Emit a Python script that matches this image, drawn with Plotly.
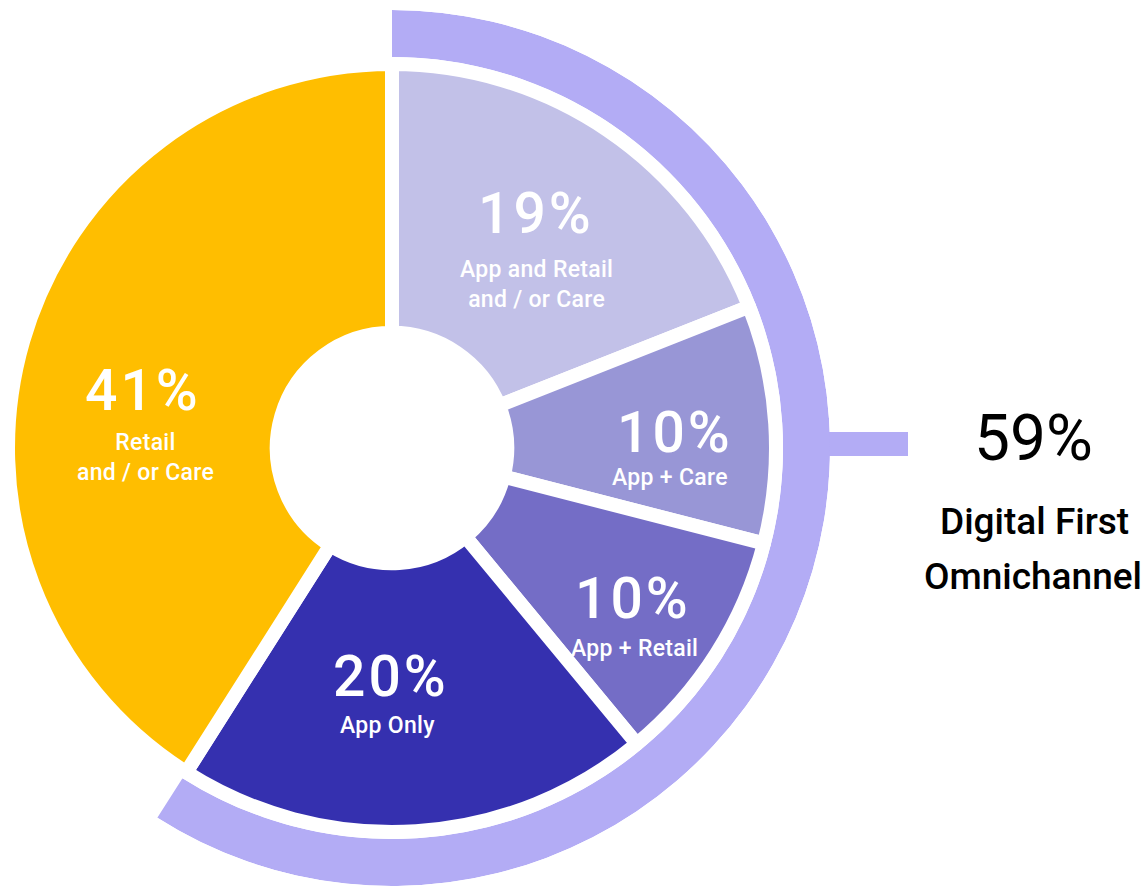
import math
import plotly.graph_objects as go

# ---- data -------------------------------------------------------------
segments = ["App and Retail<br>and / or Care", "App + Care", "App + Retail",
            "App Only", "Retail<br>and / or Care"]
shares = [19, 10, 10, 20, 41]
colors = ["#C2C1E8", "#9896D6", "#746DC6", "#3530AF", "#FFBE00"]
digital_first = ["App and Retail<br>and / or Care", "App + Care", "App + Retail", "App Only"]
group_lines = ["Digital First", "Omnichannel"]

# ---- geometry (pixels) -----------------------------------------------
W, H = 1146, 886
CX, CY = 392, 448            # centre of the donut, from top-left
R_PIE = 384                  # pie radius incl. white outline
HOLE = 0.30
GAP = 14                     # white separators
R_OUT, R_IN = 438, 391       # outer "digital first" band
ARC_COLOR = "#B3ACF5"

digital_total = sum(s for n, s in zip(segments, shares) if n in digital_first)

fig = go.Figure()

fig.add_trace(go.Pie(
    labels=segments, values=shares, sort=False, direction="clockwise",
    rotation=0, hole=HOLE,
    marker=dict(colors=colors, line=dict(color="white", width=GAP)),
    textinfo="none", hoverinfo="skip",
    domain=dict(x=[(CX - R_PIE) / W, (CX + R_PIE) / W],
                y=[(H - CY - R_PIE) / H, (H - CY + R_PIE) / H]),
    showlegend=False,
))

# outer band covering the digital-first share, as a polar bar
span = digital_total / 100 * 360
sector = [90 - span - 0.3, 90.3]
x0f = min(0.0, math.cos(math.radians(sector[0])))
fig.add_trace(go.Barpolar(
    r=[R_OUT - R_IN], base=[R_IN], theta=[span / 2], width=[span],
    marker=dict(color=ARC_COLOR, line=dict(width=0)),
    hoverinfo="skip", showlegend=False,
))
fig.update_layout(polar=dict(
    domain=dict(x=[(CX + x0f * R_OUT) / W, (CX + R_OUT) / W],
                y=[(H - CY - R_OUT) / H, (H - CY + R_OUT) / H]),
    sector=sector, hole=0, bgcolor="rgba(0,0,0,0)",
    radialaxis=dict(visible=False, range=[0, R_OUT]),
    angularaxis=dict(visible=False, direction="clockwise", rotation=90),
))

# connector tick from the band to the group label
fig.add_shape(type="rect", xref="paper", yref="paper",
              x0=(CX + R_OUT - 3) / W, x1=908 / W,
              y0=1 - 456 / H, y1=1 - 432 / H,
              fillcolor=ARC_COLOR, line=dict(width=0), layer="below")

# ---- labels ------------------------------------------------------------
FONT = "Roboto"
pct_pos = [(536, 214), (675, 432), (633, 598), (391, 676), (143, 390)]
sub_pos = [(536, 284), (670, 478), (634, 648), (387, 725), (145, 457)]


def add_text(x, y, text, size, color, weight=400, spacing=None):
    if spacing is not None:
        text = f'<span style="letter-spacing:{spacing}px">{text}</span>'
    fig.add_annotation(x=x / W, y=1 - y / H, xref="paper", yref="paper",
                       text=text, showarrow=False, xanchor="center",
                       yanchor="middle",
                       font=dict(family=FONT, size=size, color=color,
                                 weight=weight))


for seg, share, (px, py), (sx, sy) in zip(segments, shares, pct_pos, sub_pos):
    add_text(px, py, f"{share}%", 57, "white", 500, spacing=3)
    add_text(sx, sy, seg, 23, "white", 500, spacing=0.3)

add_text(1033, 438, f"{digital_total}%", 64, "black")
add_text(1034, 521, group_lines[0], 37, "black", 500)
add_text(1033, 576, group_lines[1], 37, "black", 500)

fig.update_layout(width=W, height=H, margin=dict(l=0, r=0, t=0, b=0),
                  paper_bgcolor="white", plot_bgcolor="white",
                  showlegend=False)

fig.write_html("out.html")
